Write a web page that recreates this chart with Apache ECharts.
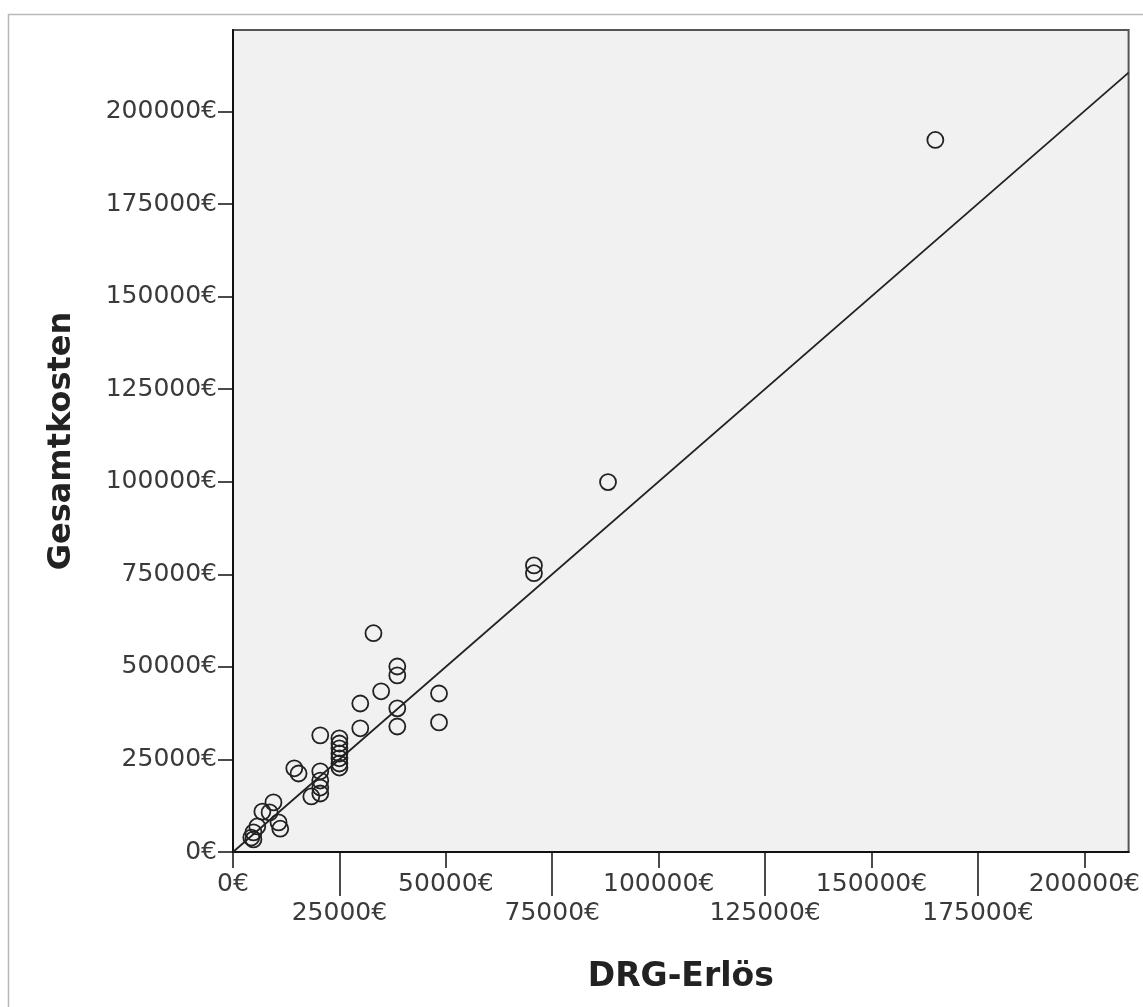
<!DOCTYPE html>
<html>
<head>
<meta charset="utf-8">
<script src="https://cdn.jsdelivr.net/npm/echarts@6/dist/echarts.min.js"></script>
<style>
html,body{margin:0;padding:0;background:#fff;}
#chart{width:1143px;height:1007px;}
</style>
</head>
<body>
<div id="chart"></div>
<script>
// ---- data ----
var drgErloes = [165000, 88100, 70700, 70700, 33000, 38600, 38600, 34800, 29900, 48400,
  38600, 29900, 38600, 48400, 20500, 25000, 25000, 25000, 25000, 25000,
  25000, 25000, 14400, 15400, 20500, 20500, 20500, 20500, 18400, 9500,
  6900, 8600, 10700, 11100, 5700, 4800, 4300, 4800];
var gesamtkosten = [192300, 99900, 77400, 75300, 59100, 50100, 47700, 43400, 40100, 42800,
  38800, 33400, 33900, 35000, 31500, 30700, 29300, 28000, 26600, 25300,
  23900, 22800, 22600, 21200, 21800, 19300, 17400, 15800, 15000, 13400,
  10900, 10700, 8000, 6300, 6900, 5300, 3900, 3400];
// fit line end points
var fitLineX = [0, 210400];
var fitLineY = [0, 210500];
// tick labels
var xTicksRow1 = [0, 50000, 100000, 150000, 200000];
var xTicksRow2 = [25000, 75000, 125000, 175000];
var yTicks = [0, 25000, 50000, 75000, 100000, 125000, 150000, 175000, 200000];
var xTitle = 'DRG-Erlös';
var yTitle = 'Gesamtkosten';

var points = drgErloes.map(function (x, i) { return [x, gesamtkosten[i]]; });
var fitLine = fitLineX.map(function (x, i) { return [x, fitLineY[i]]; });
var euro = function (v) { return v + '€'; };
var FONT = 'DejaVu Sans';

var chart = echarts.init(document.getElementById('chart'), null, {renderer: 'canvas'});
var xMax = 210400, yMax = 222000;

chart.setOption({
  animation: false,
  backgroundColor: '#ffffff',
  graphic: [{
    type: 'rect', silent: true, z: -10,
    shape: {x: 8.5, y: 14.5, width: 1300, height: 1200},
    style: {fill: 'none', stroke: '#b8b8b8', lineWidth: 1.5}
  }],
  grid: {
    left: 233, top: 30, width: 896, height: 822,
    show: true, backgroundColor: '#f1f1f1', borderColor: '#555', borderWidth: 2
  },
  xAxis: [{
    type: 'value', min: 0, max: xMax, position: 'bottom',
    name: xTitle, nameLocation: 'middle', nameGap: 109,
    nameTextStyle: {fontFamily: FONT, fontWeight: 'bold', fontSize: 33, color: '#222'},
    axisLine: {show: true, onZero: false, lineStyle: {color: '#111', width: 2}},
    axisTick: {show: true, length: 16, customValues: xTicksRow1, lineStyle: {color: '#111', width: 1.5}},
    axisLabel: {show: true, customValues: xTicksRow1, margin: 32, verticalAlign: 'middle',
      formatter: euro, fontFamily: FONT, fontSize: 25, color: '#3a3a3a'},
    splitLine: {show: false}
  }, {
    type: 'value', min: 0, max: xMax, position: 'bottom', offset: 0,
    axisLine: {show: false},
    axisTick: {show: true, length: 44, customValues: xTicksRow2, lineStyle: {color: '#111', width: 1.5}},
    axisLabel: {show: true, customValues: xTicksRow2, margin: 61, verticalAlign: 'middle',
      formatter: euro, fontFamily: FONT, fontSize: 25, color: '#3a3a3a'},
    splitLine: {show: false}
  }],
  yAxis: [{
    type: 'value', min: 0, max: yMax, position: 'left',
    name: yTitle, nameLocation: 'middle', nameGap: 155, nameRotate: 90,
    nameTextStyle: {fontFamily: FONT, fontWeight: 'bold', fontSize: 32, color: '#222'},
    axisLine: {show: true, onZero: false, lineStyle: {color: '#111', width: 2}},
    axisTick: {show: true, length: 15, customValues: yTicks, lineStyle: {color: '#111', width: 1.5}},
    axisLabel: {show: true, customValues: yTicks, margin: 16,
      formatter: euro, fontFamily: FONT, fontSize: 25, color: '#3a3a3a'},
    splitLine: {show: false}
  }],
  series: [{
    type: 'line', xAxisIndex: 0, yAxisIndex: 0,
    data: fitLine, showSymbol: false, symbol: 'none',
    lineStyle: {color: '#222', width: 1.8}, z: 2
  }, {
    type: 'scatter', xAxisIndex: 0, yAxisIndex: 0,
    data: points, symbol: 'circle', symbolSize: 16,
    itemStyle: {color: 'rgba(0,0,0,0)', borderColor: '#222', borderWidth: 1.8, opacity: 1},
    z: 3
  }]
});
</script>
</body>
</html>
